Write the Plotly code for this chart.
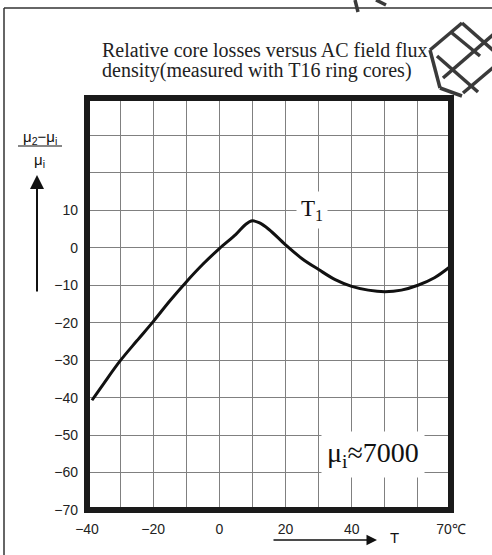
import plotly.graph_objects as go

# ---- data ----
temp_c = [-38.5, -35, -30, -25, -20, -15, -10, -5, 0, 5, 8, 10, 12, 15, 20, 25, 30, 35, 40, 45, 50, 55, 60, 65, 69.5]
rel_change = [-40.7, -36.3, -30.2, -24.9, -19.7, -14.2, -9.1, -4.4, -0.2, 3.6, 6.3, 7.2, 6.7, 4.9, 0.8, -2.9, -5.8, -8.5, -10.3, -11.3, -11.7, -11.3, -10.0, -8.0, -5.2]

x_ticks = [-40, -20, 0, 20, 40, 70]
x_ticklabels = ["−40", "−20", "0", "20", "40", "70℃"]
y_ticks = [-70, -60, -50, -40, -30, -20, -10, 0, 10]
y_ticklabels = ["−70", "−60", "−50", "−40", "−30", "−20", "−10", "0", "10"]

title_line1 = "Relative core losses versus AC field flux"
title_line2 = "density(measured with T16 ring cores)"
curve_label = "T<sub>1</sub>"
mu_label = "μ<sub>i</sub>≈7000"

W, H = 492, 555
L, R, T, B = 87, 41, 98, 45
PW, PH = W - L - R, H - T - B


def px(xp, yp):
    return (xp - L) / PW, (H - B - yp) / PH


fig = go.Figure()
fig.add_trace(go.Scatter(
    x=temp_c, y=rel_change, mode="lines",
    line=dict(color="#111111", width=3, shape="spline", smoothing=1.0),
    hoverinfo="skip", showlegend=False,
))

grid = "#808080"
fig.update_xaxes(range=[-40, 70], tickvals=x_ticks, ticktext=x_ticklabels,
                 showgrid=True, gridcolor=grid, gridwidth=1, zeroline=False,
                 minor=dict(tick0=-40, dtick=10, showgrid=True, gridcolor=grid, gridwidth=1, ticks=""),
                 showline=False, ticks="", ticklabelstandoff=9,
                 tickfont=dict(family="Liberation Sans", size=14, color="#222"))
fig.update_yaxes(range=[-70, 40], tickvals=y_ticks, ticktext=y_ticklabels,
                 showgrid=True, gridcolor=grid, gridwidth=1, zeroline=False,
                 minor=dict(tick0=-70, dtick=10, showgrid=True, gridcolor=grid, gridwidth=1, ticks=""),
                 showline=False, ticks="", ticklabelstandoff=8,
                 tickfont=dict(family="Liberation Sans", size=14, color="#222"))

shapes = []
# thick plot border
shapes.append(dict(type="rect", xref="paper", yref="paper", x0=0, x1=1, y0=0, y1=1,
                   line=dict(color="#1a1a1a", width=6), layer="above"))
# outer thin frame (left and top)
x0, y0 = px(4, 8)
x1, _ = px(500, 8)
_, yb = px(4, 560)
shapes.append(dict(type="line", xref="paper", yref="paper", x0=x0, x1=x0, y0=yb, y1=y0,
                   line=dict(color="#333", width=1.5)))
shapes.append(dict(type="line", xref="paper", yref="paper", x0=x0, x1=x1, y0=y0, y1=y0,
                   line=dict(color="#333", width=1.5)))
# fraction bar of y label
fa, fy = px(18, 146)
fb, _ = px(62, 146)
shapes.append(dict(type="line", xref="paper", yref="paper", x0=fa, x1=fb, y0=fy, y1=fy,
                   line=dict(color="#111", width=1.2)))
# watermark lattice (top right)
wm = [((430, 50), (462, 23)), ((462, 23), (495, 52)), ((452, 33), (480, 56)),
      ((437, 56), (478, 92)), ((443, 78), (495, 33)), ((463, 93), (495, 66)),
      ((430, 50), (440, 88)), ((440, 88), (462, 96)), ((355, 0), (358, 12)),
      ((376, 0), (386, 5))]
for (a, b) in wm:
    ax_, ay_ = px(*a)
    bx_, by_ = px(*b)
    shapes.append(dict(type="line", xref="paper", yref="paper", x0=ax_, y0=ay_, x1=bx_, y1=by_,
                       line=dict(color="#3a3a3a", width=3.5)))

ann = []
t1x, t1y = px(100, 50)
ann.append(dict(xref="paper", yref="paper", x=t1x, y=t1y, xanchor="left", yanchor="middle",
                text=title_line1, showarrow=False,
                font=dict(family="Liberation Serif", size=20, color="#222")))
t2x, t2y = px(100, 71)
ann.append(dict(xref="paper", yref="paper", x=t2x, y=t2y, xanchor="left", yanchor="middle",
                text=title_line2, showarrow=False,
                font=dict(family="Liberation Serif", size=20, color="#222")))
# y-axis label fraction
nx, ny = px(40, 137)
ann.append(dict(xref="paper", yref="paper", x=nx, y=ny, xanchor="center", yanchor="middle",
                text="μ<sub>2</sub>−μ<sub>i</sub>", showarrow=False,
                font=dict(family="Liberation Sans", size=15, color="#111")))
dx, dy = px(40, 160)
ann.append(dict(xref="paper", yref="paper", x=dx, y=dy, xanchor="center", yanchor="middle",
                text="μ<sub>i</sub>", showarrow=False,
                font=dict(family="Liberation Sans", size=15, color="#111")))
# y arrow
ax1, ay1 = px(37, 175)
ann.append(dict(xref="paper", yref="paper", x=ax1, y=ay1, ax=0, ay=118,
                text="", showarrow=True, arrowhead=2, arrowsize=1.4, arrowwidth=2, arrowcolor="#111"))
# x arrow
ax2, ay2 = px(377, 540)
ann.append(dict(xref="paper", yref="paper", x=ax2, y=ay2, ax=-105, ay=0,
                text="", showarrow=True, arrowhead=2, arrowsize=1.4, arrowwidth=1.5, arrowcolor="#111"))
tx, ty = px(394, 537)
ann.append(dict(xref="paper", yref="paper", x=tx, y=ty, xanchor="center", yanchor="middle",
                text="T", showarrow=False,
                font=dict(family="Liberation Sans", size=15, color="#111")))
# curve label
ann.append(dict(x=28.0, y=10, xref="x", yref="y", text=curve_label, showarrow=False,
                bgcolor="white", borderpad=4,
                font=dict(family="Liberation Serif", size=23, color="#111")))
# mu label
ann.append(dict(x=46.4, y=-55.3, xref="x", yref="y", text=mu_label, showarrow=False,
                bgcolor="white", borderpad=5,
                font=dict(family="Liberation Serif, DejaVu Serif, serif", size=28, color="#111")))

fig.update_layout(width=W, height=H, margin=dict(l=L, r=R, t=T, b=B),
                  paper_bgcolor="white", plot_bgcolor="white",
                  shapes=shapes, annotations=ann, showlegend=False)

fig.write_html("out.html", config={"displayModeBar": False},
               post_script="document.body.style.margin='0';document.body.style.overflow='hidden';")
